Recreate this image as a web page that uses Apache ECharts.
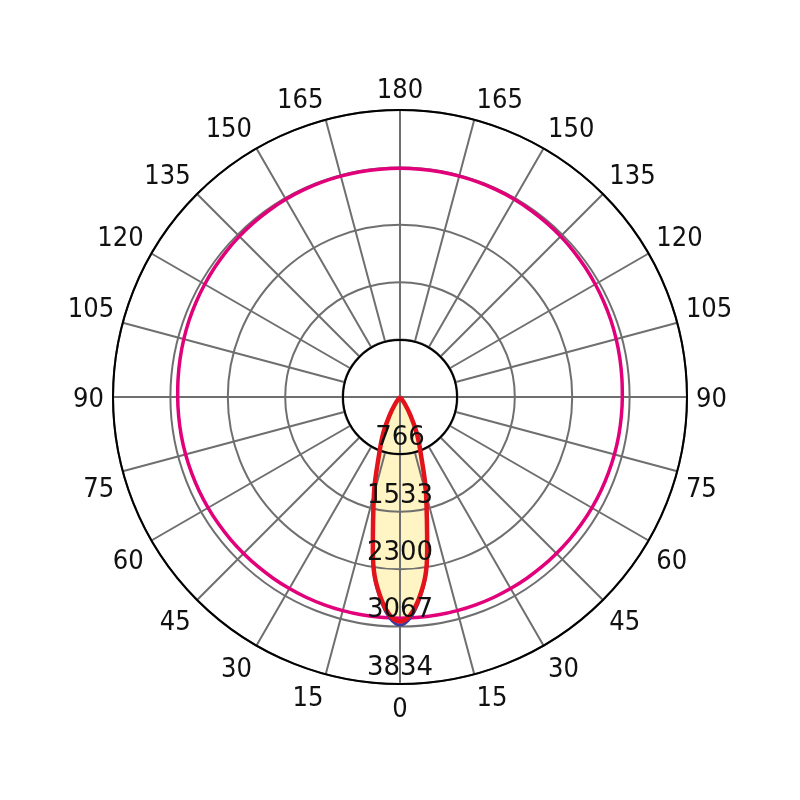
<!DOCTYPE html>
<html>
<head>
<meta charset="utf-8">
<script src="https://cdn.jsdelivr.net/npm/echarts@6/dist/echarts.min.js"></script>
<style>html,body{margin:0;padding:0;background:#fff}#c{width:800px;height:800px}</style>
</head>
<body>
<div id="c"></div>
<script>
// Ring (radius) tick labels, cd
var ringLabels = ['766', '1533', '2300', '3067', '3834'];
var radiusMax = 3834;
// Angle tick positions and their labels (0..180 on both halves)
var angleTicks = [0, 15, 30, 45, 60, 75, 90, 105, 120, 135, 150, 165, 180, 195, 210, 225, 240, 255, 270, 285, 300, 315, 330, 345];
var angleTickLabels = ['0', '15', '30', '45', '60', '75', '90', '105', '120', '135', '150', '165', '180', '165', '150', '135', '120', '105', '90', '75', '60', '45', '30', '15'];

// Narrow lobe (C0 plane) - gamma angles and intensities (cd), symmetric
var lobeAngles = [0, 5, 10, 15, 20, 25, 30, 35, 40, 45];
var redVals    = [3000, 2740, 2090, 1345, 816, 525, 264, 110, 30, 0];
var blueVals   = [3045, 2770, 2100, 1350, 820, 527, 265, 110, 30, 0];

// Wide plane (C90) - gamma angles and intensities (cd), symmetric
var wideAngles = [0, 5, 10, 15, 20, 25, 30, 35, 40, 45, 50, 55, 60, 65, 70, 75, 80, 85, 90,
                  95, 100, 105, 110, 115, 120, 125, 130, 135, 140, 145, 150, 155, 160, 165, 170, 175, 180];
var magentaVals = [2955, 2955, 2955, 2955, 2955, 2955, 2955, 2955, 2955, 2955, 2957, 2958, 2960, 2962, 2963, 2965, 2967, 2968, 2970,
                   2975, 2982, 2990, 2998, 3005, 3012, 3020, 3028, 3035, 3040, 3045, 3050, 3052, 3054, 3055, 3055, 3055, 3055];

function lobeData(vals) {
  var d = [];
  for (var i = lobeAngles.length - 1; i >= 1; i--) d.push([vals[i], 360 - lobeAngles[i]]);
  for (var j = 0; j < lobeAngles.length; j++) d.push([vals[j], lobeAngles[j]]);
  return d;
}
function wideData(vals) {
  var d = [];
  for (var i = 0; i < wideAngles.length; i++) d.push([vals[i], wideAngles[i]]);
  for (var k = wideAngles.length - 2; k >= 0; k--) d.push([vals[k], 360 - wideAngles[k]]);
  return d;
}

var C = [400, 397], R = 287, labelGap = 9;
var gray = '#6f6f6f';
var labelFont = '"DejaVu Sans Condensed", "DejaVu Sans", sans-serif';

// angle label items placed through the polar coordinate system, just outside the rim
var labelRadiusValue = radiusMax * (R + labelGap) / R;
var angleLabelData = angleTicks.map(function (a, i) {
  var rad = a * Math.PI / 180;
  var dx = -Math.sin(rad), dy = Math.cos(rad);
  var align = dx < -0.1 ? 'right' : (dx > 0.1 ? 'left' : 'center');
  var valign = dy > 0.1 ? 'top' : (dy < -0.1 ? 'bottom' : 'middle');
  return {value: [labelRadiusValue, a], name: angleTickLabels[i],
          label: {align: align, verticalAlign: valign}};
});

var chart = echarts.init(document.getElementById('c'));
chart.setOption({
  animation: false,
  backgroundColor: '#ffffff',
  polar: [
    {center: C, radius: [57, R]},
    {center: C, radius: [0, R]},
    {center: C, radius: [0, R]}
  ],
  angleAxis: [
    {polarIndex: 0, type: 'value', min: 0, max: 360, interval: 15, startAngle: 270, clockwise: true, z: 1,
     axisLine: {lineStyle: {color: '#000', width: 2}},
     axisTick: {show: false},
     splitLine: {show: true, lineStyle: {color: gray, width: 2}},
     axisLabel: {show: false}},
    {polarIndex: 1, type: 'value', min: 0, max: 360, interval: 90, startAngle: 270, clockwise: true, z: 1,
     axisLine: {show: false}, axisTick: {show: false}, axisLabel: {show: false},
     splitLine: {show: true, lineStyle: {color: gray, width: 2}}},
    {polarIndex: 2, type: 'value', min: 0, max: 360, startAngle: 270, clockwise: true, show: false}
  ],
  radiusAxis: [
    {polarIndex: 0, type: 'value', min: 0, max: radiusMax, show: false},
    {polarIndex: 1, type: 'value', min: 0, max: radiusMax, interval: radiusMax / 5, z: 1,
     axisLine: {show: false}, axisTick: {show: false}, axisLabel: {show: false},
     splitLine: {show: true, lineStyle: {color: gray, width: 2}}},
    {polarIndex: 2, type: 'value', min: 0, max: radiusMax, interval: radiusMax / 5, z: 10,
     axisLine: {show: false}, axisTick: {show: false}, splitLine: {show: false},
     axisLabel: {margin: 0, align: 'center', verticalAlign: 'bottom', padding: [0, 0, 3, 0], fontSize: 26, color: '#111',
       fontFamily: '"DejaVu Sans", sans-serif', showMinLabel: false,
       formatter: function (v, i) { return ringLabels[i - 1] || ''; }}}
  ],
  series: [
    {type: 'line', coordinateSystem: 'polar', polarIndex: 1, z: 0, data: lobeData(redVals), symbol: 'none', smooth: 0.4,
     lineStyle: {width: 0, color: '#fff5c4'}, areaStyle: {color: '#fff5c4', opacity: 1}},
    {type: 'line', coordinateSystem: 'polar', polarIndex: 1, z: 3, data: wideData(magentaVals), symbol: 'none', smooth: 0.3,
     lineStyle: {width: 3.5, color: '#e2007a'}},
    {type: 'line', coordinateSystem: 'polar', polarIndex: 1, z: 4, data: lobeData(blueVals), symbol: 'none', smooth: 0.4,
     lineStyle: {width: 3, color: '#3b3b9e'}},
    {type: 'line', coordinateSystem: 'polar', polarIndex: 1, z: 5, data: lobeData(redVals), symbol: 'none', smooth: 0.4,
     lineStyle: {width: 4.5, color: '#e3131b'}},
    {type: 'scatter', coordinateSystem: 'polar', polarIndex: 1, z: 10, clip: false, silent: true,
     symbol: 'circle', symbolSize: 0, itemStyle: {opacity: 1}, data: angleLabelData,
     label: {show: true, position: 'inside', offset: [0, 3], formatter: '{b}', fontSize: 27, color: '#111', opacity: 1, fontFamily: labelFont}}
  ]
});
</script>
</body>
</html>
